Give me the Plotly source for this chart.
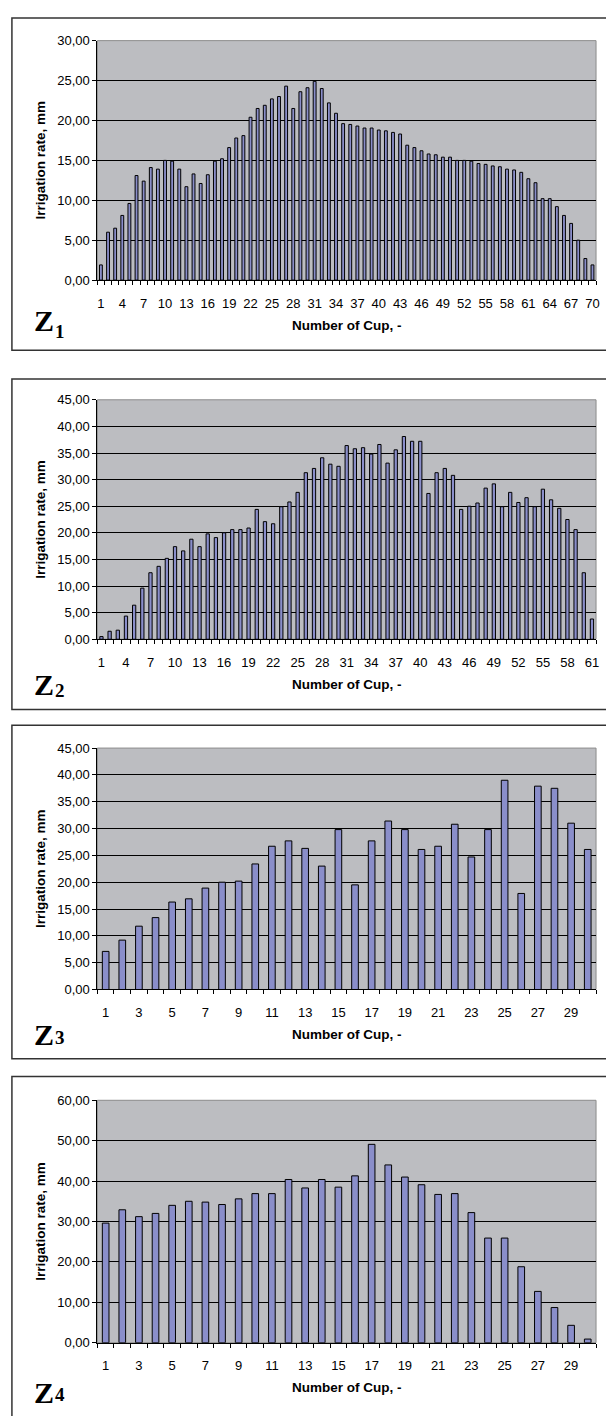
import plotly.graph_objects as go

W, H = 606, 1416

cups_z1 = list(range(1, 71))
z1 = [1.9, 6.0, 6.5, 8.1, 9.6, 13.1, 12.4, 14.1, 13.9, 15.0,
      14.9, 13.9, 11.7, 13.3, 12.1, 13.2, 14.9, 15.2, 16.6, 17.8,
      18.1, 20.4, 21.5, 21.9, 22.7, 23.0, 24.3, 21.5, 23.6, 24.1,
      24.9, 24.0, 22.2, 20.9, 19.6, 19.5, 19.3, 19.05, 19.05, 18.8,
      18.7, 18.5, 18.3, 16.9, 16.6, 16.2, 15.8, 15.7, 15.4, 15.4,
      15.0, 15.0, 14.9, 14.6, 14.5, 14.3, 14.2, 13.9, 13.8, 13.5,
      12.7, 12.2, 10.2, 10.2, 9.2, 8.1, 7.1, 5.0, 2.7, 1.9]

cups_z2 = list(range(1, 62))
z2 = [0.5, 1.5, 1.7, 4.35, 6.4, 9.6, 12.5, 13.7, 15.2, 17.4,
      16.6, 18.8, 17.4, 19.8, 19.1, 20.0, 20.6, 20.6, 20.9, 24.4,
      22.1, 21.7, 24.9, 25.8, 27.6, 31.3, 32.1, 34.1, 32.9, 32.5,
      36.4, 35.8, 36.0, 34.8, 36.6, 33.1, 35.6, 38.1, 37.2, 37.2,
      27.4, 31.3, 32.1, 30.8, 24.4, 25.0, 25.6, 28.4, 29.2, 24.9,
      27.6, 25.7, 26.6, 24.9, 28.2, 26.2, 24.6, 22.5, 20.6, 12.5,
      3.8]

cups_z3 = list(range(1, 31))
z3 = [7.1, 9.2, 11.8, 13.4, 16.3, 16.9, 18.9, 20.0, 20.2, 23.4,
      26.7, 27.7, 26.3, 23.0, 29.8, 19.5, 27.7, 31.4, 29.8, 26.1,
      26.7, 30.8, 24.7, 29.8, 39.0, 17.9, 37.9, 37.5, 31.0, 26.1]

cups_z4 = list(range(1, 31))
z4 = [29.6, 32.9, 31.2, 32.0, 34.0, 35.0, 34.8, 34.2, 35.6, 36.9,
      36.9, 40.4, 38.3, 40.4, 38.5, 41.3, 49.1, 44.0, 41.0, 39.1,
      36.7, 36.9, 32.2, 25.9, 25.9, 18.8, 12.7, 8.7, 4.3, 0.9]

panel_labels = ["1", "2", "3", "4"]
y_max = [30, 45, 45, 60]
y_step = [5, 5, 5, 10]
x_step = [3, 3, 2, 2]
x_title = "Number of Cup, -"
y_title = "Irrigation rate, mm"

series = [(cups_z1, z1), (cups_z2, z2), (cups_z3, z3), (cups_z4, z4)]

# layout geometry in pixels
plot_px = [(34, 276), (397, 639), (749, 993), (1105, 1350)]
box_px = [(11, 347), (376, 710), (726, 1063), (1081, 1430)]
z_main_px = [317, 685, 1039, 1400]
z_sub_px = [328, 691, 1042, 1402]
x0_px, x1_px = 98, 600

BAR = "#8A8ECA"
BG = "#BCBDC1"
FONT = "Liberation Sans, Arial, sans-serif"
SERIF = "Liberation Serif, Times New Roman, serif"

fig = go.Figure()
shapes = []
annotations = []

def py(px):
    return 1 - px / H

for i, (cups, vals) in enumerate(series):
    n = i + 1
    xa = "x" if n == 1 else f"x{n}"
    ya = "y" if n == 1 else f"y{n}"
    fig.add_trace(go.Bar(
        x=cups, y=vals, xaxis=xa, yaxis=ya,
        marker=dict(color=BAR, line=dict(color="black", width=1)),
        showlegend=False,
    ))
    N = len(cups)
    top, bot = plot_px[i]
    xkey = "xaxis" if n == 1 else f"xaxis{n}"
    ykey = "yaxis" if n == 1 else f"yaxis{n}"
    fig.update_layout(**{
        xkey: dict(
            domain=[x0_px / W, x1_px / W], anchor=ya,
            range=[0.5, N + 0.5], tickmode="array",
            tickvals=cups[::x_step[i]], ticktext=[str(c) for c in cups[::x_step[i]]],
            ticks="", showgrid=False, zeroline=False,
            showline=True, linecolor="black", linewidth=1,
            ticklabelstandoff=11,
            tickfont=dict(family=FONT, size=13, color="black"),
            minor=dict(tickmode="linear", tick0=0.5, dtick=1, ticks="outside",
                       ticklen=4, tickcolor="black", tickwidth=1, showgrid=False),
            title=dict(text=x_title, standoff=10,
                       font=dict(family=FONT, size=13.5, color="black", weight="bold")),
            fixedrange=True,
        ),
        ykey: dict(
            domain=[py(bot), py(top)], anchor=xa,
            range=[0, y_max[i]], dtick=y_step[i], tick0=0,
            tickformat=".2f", ticks="outside", ticklen=4, tickcolor="black",
            showgrid=True, gridcolor="black", gridwidth=1, zeroline=False,
            showline=True, linecolor="black", linewidth=1,
            tickfont=dict(family=FONT, size=13, color="black"),
            title=dict(text=y_title, standoff=8,
                       font=dict(family=FONT, size=13.5, color="black", weight="bold")),
            fixedrange=True,
        ),
    })
    shapes.append(dict(type="rect", xref="paper", yref="paper", layer="below",
                       x0=x0_px / W, x1=x1_px / W, y0=py(bot), y1=py(top),
                       fillcolor=BG, line=dict(color="#8C8C8C", width=1)))
    bt, bb = box_px[i]
    shapes.append(dict(type="rect", xref="paper", yref="paper", layer="above",
                       x0=12 / W, x1=640 / W, y0=py(bb), y1=py(bt),
                       fillcolor="rgba(0,0,0,0)", line=dict(color="#333333", width=1.5)))
    annotations.append(dict(
        xref="paper", yref="paper", x=56 / W, y=py(z_main_px[i]),
        xanchor="right", yanchor="middle", showarrow=False, text="Z",
        font=dict(family=SERIF, size=30, color="black", weight="bold"),
    ))
    annotations.append(dict(
        xref="paper", yref="paper", x=53 / W, y=py(z_sub_px[i]),
        xanchor="left", yanchor="middle", showarrow=False, text=panel_labels[i],
        font=dict(family=SERIF, size=19, color="black", weight="bold"),
    ))

fig.update_layout(
    width=W, height=H, margin=dict(l=0, r=0, t=0, b=0),
    paper_bgcolor="white", plot_bgcolor="rgba(0,0,0,0)",
    separators=", ", bargap=0.6,
    shapes=shapes, annotations=annotations,
)

fig.write_html("out.html", config={"displayModeBar": False},
               post_script="document.body.style.margin='0';document.body.style.overflow='hidden';")
